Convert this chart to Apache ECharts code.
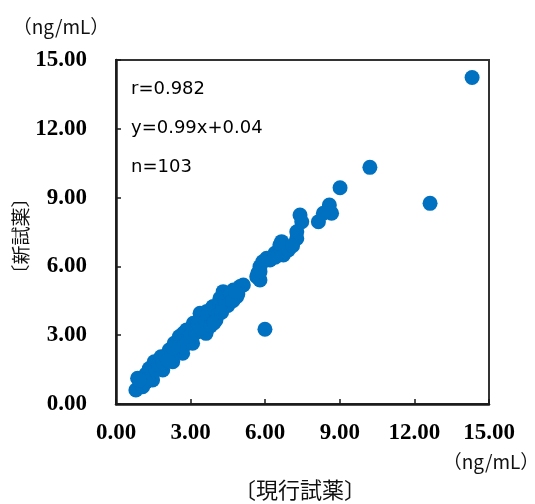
<!DOCTYPE html>
<html>
<head>
<meta charset="utf-8">
<script src="https://cdn.jsdelivr.net/npm/echarts@6/dist/echarts.min.js"></script>
<style>
  html, body { margin: 0; padding: 0; background: #fff; }
  #main { width: 535px; height: 504px; }
</style>
</head>
<body>
<div id="main"></div>
<script>
// 軸の目盛り
var xTicks = [0, 3, 6, 9, 12, 15];
var yTicks = [0, 3, 6, 9, 12, 15];

// 現行試薬 (x) と 新試薬 (y) の測定値
var currentReagent = [
    14.32, 10.21, 12.63, 9.01, 5.99,
    8.58, 8.67, 8.34, 8.14, 7.40, 7.47, 7.27, 7.27, 6.66, 6.59, 6.73, 6.06, 5.79, 5.66, 5.79,
    6.19, 6.39, 6.93, 5.12, 5.79, 5.90, 6.59,
    4.99, 4.72, 4.31, 4.18, 4.58, 4.85, 3.91, 3.65, 3.38, 3.78, 3.11, 3.51, 2.84, 2.71, 3.91, 4.18,
    0.80, 0.87, 1.14, 1.34, 1.54, 1.81, 2.14, 2.34, 2.55, 3.08, 3.35, 3.48, 3.89, 3.35,
    1.07, 1.47, 1.88, 2.28, 2.68, 3.08, 3.62, 4.02,
    1.00, 1.20, 1.30, 1.60, 1.70, 1.90, 2.00, 2.20, 2.40, 2.50,
    2.60, 2.90, 3.00, 3.20, 3.30, 3.40, 3.60, 3.70, 3.80, 4.00,
    4.10, 4.30, 4.40, 4.50, 4.60, 4.70, 4.90, 2.10, 2.70, 1.20,
    0.95, 3.95, 4.25, 7.10, 5.70, 6.40, 4.80, 2.30
];
var newReagent = [
    14.24, 10.32, 8.75, 9.43, 3.26,
    8.68, 8.32, 8.32, 7.95, 8.24, 7.95, 7.51, 7.22, 7.08, 6.79, 6.50, 6.35, 5.99, 5.55, 5.41,
    6.28, 6.57, 6.72, 5.19, 5.77, 6.20, 6.93,
    5.12, 4.97, 4.90, 4.61, 4.61, 4.68, 4.24, 4.03, 3.96, 3.74, 3.52, 3.45, 3.23, 3.08, 3.96, 4.32,
    0.61, 1.12, 1.19, 1.55, 1.84, 2.06, 2.35, 2.65, 2.94, 3.37, 3.66, 3.96, 4.24, 3.23,
    0.75, 1.05, 1.48, 1.84, 2.21, 2.65, 3.08, 3.66,
    0.90, 1.30, 1.10, 1.50, 1.70, 1.80, 2.10, 2.00, 2.30, 2.50,
    2.70, 2.80, 3.00, 3.10, 3.50, 3.30, 3.60, 3.90, 3.40, 4.00,
    3.90, 4.20, 4.50, 4.30, 4.80, 4.50, 4.80, 1.90, 2.50, 0.95,
    1.05, 3.55, 4.00, 6.90, 5.70, 6.40, 4.90, 2.45
];

var stats = ['r=0.982', 'y=0.99x+0.04', 'n=103'];

var points = currentReagent.map(function (x, i) { return [x, newReagent[i]]; });

var myChart = echarts.init(document.getElementById('main'));

var tickLabel = {
    fontFamily: 'Liberation Serif',
    fontWeight: 'bold',
    fontSize: 23,
    color: '#000',
    formatter: function (v) { return v.toFixed(2); }
};

var option = {
    animation: false,
    grid: {
        left: 116,
        top: 60,
        width: 373,
        height: 344,
        show: true,
        borderColor: '#333',
        borderWidth: 2
    },
    xAxis: {
        type: 'value',
        min: xTicks[0],
        max: xTicks[xTicks.length - 1],
        interval: 3,
        splitLine: { show: false },
        axisLine: { show: true, lineStyle: { color: '#1a1a1a', width: 2.5 } },
        axisTick: { show: true, inside: true, length: 5, lineStyle: { color: '#1a1a1a', width: 1.5 } },
        axisLabel: Object.assign({ margin: 18 }, tickLabel)
    },
    yAxis: {
        type: 'value',
        min: yTicks[0],
        max: yTicks[yTicks.length - 1],
        interval: 3,
        splitLine: { show: false },
        axisLine: { show: true, lineStyle: { color: '#1a1a1a', width: 2.5 } },
        axisTick: { show: true, inside: true, length: 5, lineStyle: { color: '#1a1a1a', width: 1.5 } },
        axisLabel: Object.assign({ margin: 29 }, tickLabel)
    },
    graphic: [
        { type: 'text', left: 131, top: 80, style: { text: stats[0], font: '18px "DejaVu Sans"', fill: '#000' } },
        { type: 'text', left: 131, top: 119, style: { text: stats[1], font: '18px "DejaVu Sans"', fill: '#000' } },
        { type: 'text', left: 131, top: 158, style: { text: stats[2], font: '18px "DejaVu Sans"', fill: '#000' } },
        { type: 'text', x: 61, y: 27, style: { text: '（ng/mL）', font: '19px "Noto Sans CJK JP"', fill: '#111', align: 'center', verticalAlign: 'middle' } },
        { type: 'text', x: 491, y: 462, style: { text: '（ng/mL）', font: '19px "Noto Sans CJK JP"', fill: '#111', align: 'center', verticalAlign: 'middle' } },
        { type: 'text', x: 300, y: 490, style: { text: '〔現行試薬〕', font: '22px "Noto Sans CJK JP"', fill: '#111', align: 'center', verticalAlign: 'middle' } },
        { type: 'text', x: 21, y: 236, rotation: Math.PI / 2, style: { text: '〔新試薬〕', font: '19px "Noto Sans CJK JP"', fill: '#111', align: 'center', verticalAlign: 'middle' } }
    ],
    series: [{
        type: 'scatter',
        data: points,
        symbolSize: 15,
        itemStyle: { color: '#0070C0', opacity: 1 }
    }]
};

myChart.setOption(option);
</script>
</body>
</html>
